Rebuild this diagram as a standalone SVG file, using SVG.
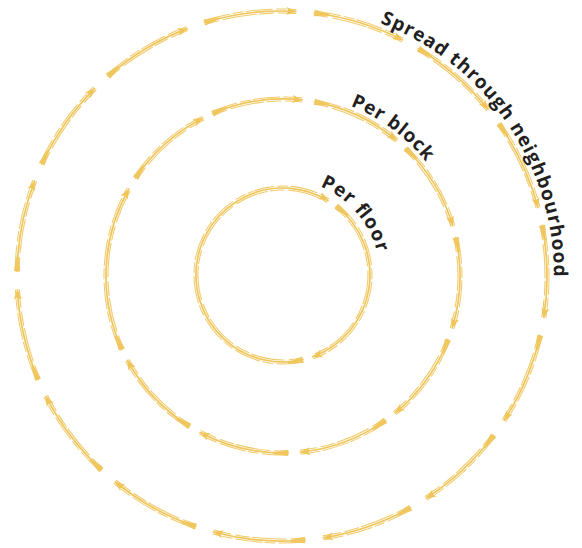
<svg xmlns="http://www.w3.org/2000/svg" width="582" height="548" viewBox="0 0 582 548">
<style>
.ring { fill: none; stroke: #F0C55A; stroke-linecap: round; }
.main { stroke-width: 1.7; marker-start: url(#tl); marker-end: url(#ah); }
.tex use { marker-start: none; marker-end: none; }
.t1 { stroke-width: 1; stroke-dasharray: 26 4 10 3; opacity: .9; }
.t2 { stroke-width: 1.1; stroke-dasharray: 14 5 34 3; opacity: .9; }
.lbl { font-family: "Open Sans", Lato, "Liberation Sans", sans-serif; font-weight: 700; font-size: 19px; fill: #231F20; }
</style>
<defs>
  <marker id="ah" markerUnits="userSpaceOnUse" viewBox="0 -5 11 10" refX="10" refY="0" markerWidth="11" markerHeight="10" orient="auto">
    <path d="M0.5,-4 L10.5,0 L0.5,4 L2.5,0 Z" fill="#F0C55A"/>
  </marker>
  <marker id="tl" markerUnits="userSpaceOnUse" viewBox="0 -5 16 10" refX="0" refY="0" markerWidth="16" markerHeight="10" orient="auto">
    <path d="M0,-3.2 L15,-1 L15,1 L0,3.2 Z" fill="#F0C55A" opacity="0.9"/>
  </marker>
  <path id="tp-outer" d="M380.1,23 A271,271 0 0 1 549.9,323.1"/>
  <path id="tp-block" d="M350.4,105.8 A183,183 0 0 1 448.9,198.7"/>
  <path id="tp-floor" d="M320.3,186.4 A97,97 0 0 1 380,276"/>
</defs>

<g id="connectors" class="ring">
  <g class="main">
    <g id="ring-outer">
      <path d="M314.3,13 A265,265 0 0 1 402.4,39.9"/>
      <path d="M418.5,48.8 A265,265 0 0 1 488,109.3"/>
      <path d="M499.1,124 A265,265 0 0 1 538,207.4"/>
      <path d="M542.1,225.4 A265,265 0 0 1 543.8,317.5"/>
      <path d="M540.2,335.6 A265,265 0 0 1 504.2,420.3"/>
      <path d="M493.6,435.5 A265,265 0 0 1 426.3,498.2"/>
      <path d="M410.5,507.8 A265,265 0 0 1 323.5,537.8"/>
      <path d="M305.1,540 A265,265 0 0 1 213.4,532"/>
      <path d="M195.7,526.6 A265,265 0 0 1 115.3,482"/>
      <path d="M101.3,469.8 A265,265 0 0 1 45.9,396.4"/>
      <path d="M38.1,379.5 A265,265 0 0 1 17.4,289.9"/>
      <path d="M17.1,271.4 A265,265 0 0 1 34.6,181"/>
      <path d="M41.8,164 A265,265 0 0 1 94.6,88.6"/>
      <path d="M108.1,76 A265,265 0 0 1 187,28.6"/>
      <path d="M204.5,22.5 A265,265 0 0 1 295.9,11.4"/>
    </g>
    <g id="ring-middle">
      <path d="M212.7,113.5 A177,177 0 0 1 302.1,100"/>
      <path d="M314.6,101.9 A177,177 0 0 1 396.5,140.2"/>
      <path d="M405.7,148.5 A177,177 0 0 1 452.7,225.7"/>
      <path d="M455.8,237.7 A177,177 0 0 1 452.2,328"/>
      <path d="M448.1,339.7 A177,177 0 0 1 395.1,413"/>
      <path d="M385.3,420.4 A177,177 0 0 1 300.6,452.1"/>
      <path d="M288.3,452.9 A177,177 0 0 1 200.2,432.4"/>
      <path d="M189.5,426.3 A177,177 0 0 1 127.5,360.5"/>
      <path d="M121.9,349.4 A177,177 0 0 1 128.8,189.1"/>
      <path d="M135.6,178 A177,177 0 0 1 202.9,118.2"/>
    </g>
    <g id="ring-inner">
      <path d="M336.3,206.3 A87,87 0 0 1 312.8,356.8"/>
      <path d="M302.9,359.7 A87,87 0 1 1 327.9,200.5"/>
    </g>
  </g>
  <g class="tex">
    <use href="#ring-outer" class="t1" transform="matrix(1.0075 0 0 1.0075 -2.115 -2.07)"/>
    <use href="#ring-outer" class="t2" transform="matrix(0.9925 0 0 0.9925 2.115 2.07)"/>
    <use href="#ring-middle" class="t1" transform="matrix(1.0113 0 0 1.0113 -3.198 -3.119)"/>
    <use href="#ring-middle" class="t2" transform="matrix(0.9887 0 0 0.9887 3.198 3.119)"/>
    <use href="#ring-inner" class="t1" transform="matrix(1.023 0 0 1.023 -6.509 -6.325)"/>
    <use href="#ring-inner" class="t2" transform="matrix(0.977 0 0 0.977 6.509 6.325)"/>
  </g>
</g>

<g id="label-neighbourhood">
  <text class="lbl"><textPath href="#tp-outer" textLength="327" lengthAdjust="spacing">Spread through neighbourhood</textPath></text>
</g>
<g id="label-block">
  <text class="lbl"><textPath href="#tp-block" textLength="95" lengthAdjust="spacing">Per block</textPath></text>
</g>
<g id="label-floor">
  <text class="lbl"><textPath href="#tp-floor" textLength="90" lengthAdjust="spacing">Per floor</textPath></text>
</g>
</svg>
